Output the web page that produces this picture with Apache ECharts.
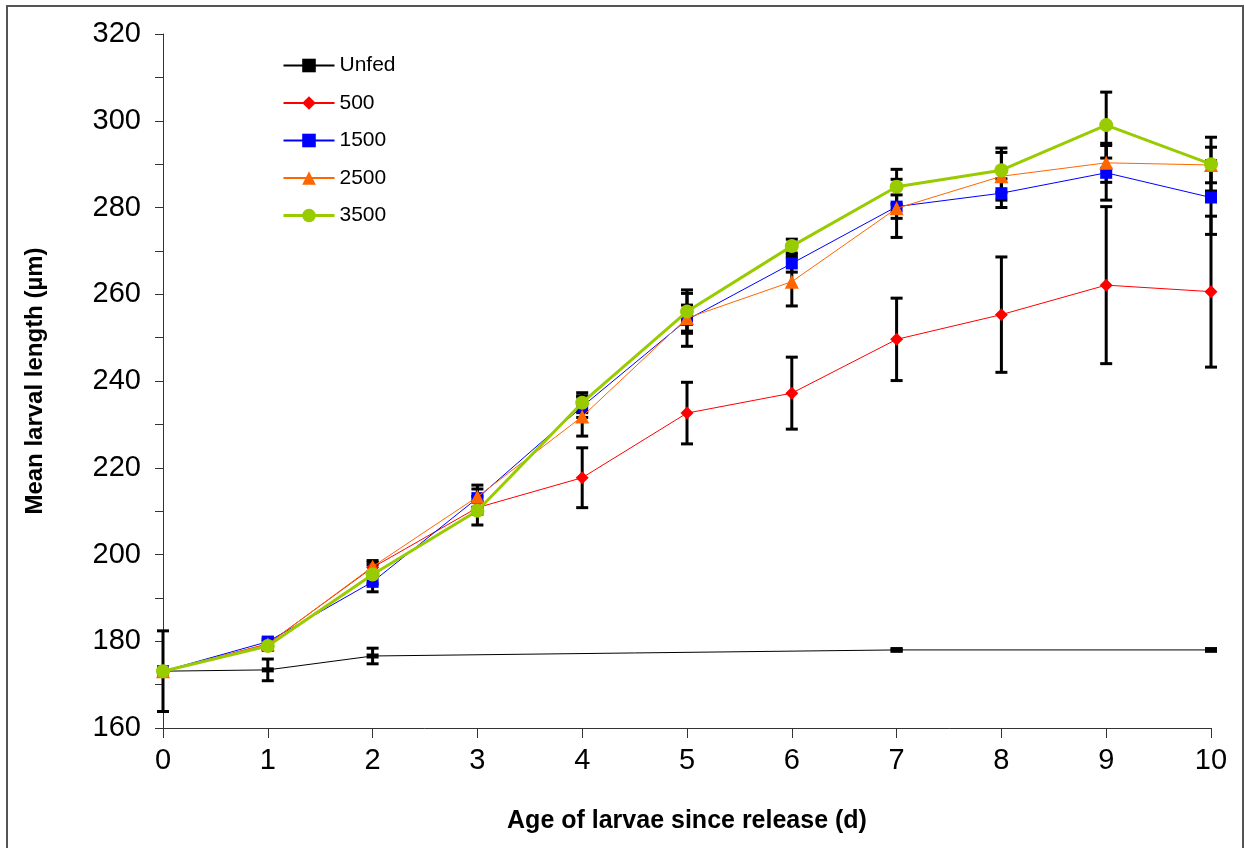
<!DOCTYPE html>
<html>
<head>
<meta charset="utf-8">
<script src="https://cdn.jsdelivr.net/npm/echarts@6/dist/echarts.min.js"></script>
<style>
html,body{margin:0;padding:0;background:#fff;}
#chart{width:1245px;height:848px;}
</style>
</head>
<body>
<div id="chart"></div>
<script>
// ---- data ----
const days = [0,1,2,3,4,5,6,7,8,9,10];
const unfedDays = [0,1,2,7,10];
const unfedMean = [173.1,173.4,176.6,178.0,178.0];
const unfedErr  = [9.3,2.5,1.8,0.3,0.3];
const s500Mean  = [173.1,179.4,197.0,210.8,217.7,232.6,237.2,249.6,255.3,262.1,260.6];
const s500Err   = [0,1.0,1.2,1.5,6.9,7.1,8.3,9.5,13.3,18.1,17.4];
const s1500Mean = [173.1,179.9,193.7,213.0,234.1,254.1,267.1,280.2,283.3,288.0,282.3];
const s1500Err  = [0,1.0,2.3,2.1,2.5,6.1,2.0,2.7,3.3,6.3,8.5];
const s2500Mean = [173.1,179.3,197.2,213.3,231.8,254.5,262.9,279.8,287.2,290.3,289.8];
const s2500Err  = [0,1.0,1.4,2.7,4.5,3.0,5.6,6.7,5.5,4.5,4.1];
const s3500Mean = [173.1,178.9,195.4,210.1,235.0,256.0,271.1,284.8,288.6,299.0,290.0];
const s3500Err  = [0,1.0,2.2,3.3,2.3,5.0,1.6,4.0,5.1,7.6,6.2];
const seriesNames = ['Unfed','500','1500','2500','3500'];
const yTicks = [160,180,200,220,240,260,280,300,320];

// ---- build ----
function pairs(xs, ys){ return xs.map((x,i)=>[x, ys[i]]); }
function errs(xs, ys, es){ return xs.map((x,i)=>[x, ys[i]-es[i], ys[i]+es[i]]).filter((d,i)=>es[i]>0); }
const errData = [].concat(
  errs(unfedDays, unfedMean, unfedErr),
  errs(days, s500Mean, s500Err),
  errs(days, s1500Mean, s1500Err),
  errs(days, s2500Mean, s2500Err),
  errs(days, s3500Mean, s3500Err)
);

const chart = echarts.init(document.getElementById('chart'), null, {renderer:'canvas'});
const font = 'Liberation Sans, Arial, sans-serif';
const option = {
  animation:false,
  backgroundColor:'#fff',
  textStyle:{fontFamily:font},
  graphic:[{type:'rect', shape:{x:7,y:6,width:1236,height:860}, style:{fill:'none', stroke:'#555', lineWidth:2}, silent:true}],
  grid:{left:163, right:34, top:34, bottom:120, containLabel:false},
  legend:{
    orient:'vertical', left:277, top:50, itemWidth:51, itemHeight:17, itemGap:16.5,
    textStyle:{fontSize:21, color:'#000', fontFamily:font},
    data:[
      {name:'Unfed'},
      {name:'500'},
      {name:'1500'},
      {name:'2500'},
      {name:'3500', lineStyle:{width:3}}
    ]
  },
  xAxis:{
    type:'value', min:0, max:10, interval:1,
    axisLine:{lineStyle:{color:'#333', width:1}},
    axisTick:{show:true, length:10, inside:false, lineStyle:{color:'#333'}},
    axisLabel:{fontSize:29, color:'#000', margin:18, fontFamily:font},
    splitLine:{show:false},
    name:'Age of larvae since release (d)', nameLocation:'middle', nameGap:81,
    nameTextStyle:{fontSize:25, fontWeight:'bold', color:'#000', fontFamily:font}
  },
  yAxis:{
    type:'value', min:160, max:320, interval:10,
    axisLine:{show:true, lineStyle:{color:'#333', width:1}},
    axisTick:{show:true, length:8, inside:false, lineStyle:{color:'#333'}},
    axisLabel:{fontSize:29, color:'#000', margin:22, fontFamily:font,
      formatter:v=> yTicks.indexOf(v)>=0 ? String(v) : ''},
    splitLine:{show:false},
    name:'Mean larval length (µm)', nameLocation:'middle', nameGap:116, nameRotate:90,
    nameTextStyle:{fontSize:24, fontWeight:'bold', color:'#000', fontFamily:font}
  },
  series:[
    {
      type:'custom', name:'err', z:1, silent:true,
      renderItem:function(params, api){
        const x = api.value(0);
        const lo = api.coord([x, api.value(1)]);
        const hi = api.coord([x, api.value(2)]);
        const w = 6;
        const st = {stroke:'#000', lineWidth:3};
        return {type:'group', children:[
          {type:'line', shape:{x1:lo[0],y1:lo[1],x2:hi[0],y2:hi[1]}, style:st},
          {type:'line', shape:{x1:lo[0]-w,y1:lo[1],x2:lo[0]+w,y2:lo[1]}, style:st},
          {type:'line', shape:{x1:hi[0]-w,y1:hi[1],x2:hi[0]+w,y2:hi[1]}, style:st}
        ]};
      },
      encode:{x:0, y:[1,2]},
      data:errData
    },
    {name:'Unfed', type:'line', z:2, data:pairs(unfedDays, unfedMean),
      symbol:'rect', symbolSize:[12,5], showAllSymbol:true,
      lineStyle:{color:'#000', width:1}, itemStyle:{color:'#000'}},
    {name:'500', type:'line', z:3, data:pairs(days, s500Mean),
      symbol:'diamond', symbolSize:13,
      lineStyle:{color:'#FF0000', width:1}, itemStyle:{color:'#FF0000'}},
    {name:'1500', type:'line', z:4, data:pairs(days, s1500Mean),
      symbol:'rect', symbolSize:12,
      lineStyle:{color:'#0000FF', width:1}, itemStyle:{color:'#0000FF'}},
    {name:'2500', type:'line', z:5, data:pairs(days, s2500Mean),
      symbol:'triangle', symbolSize:14,
      lineStyle:{color:'#FF6600', width:1}, itemStyle:{color:'#FF6600'}},
    {name:'3500', type:'line', z:6, data:pairs(days, s3500Mean),
      symbol:'circle', symbolSize:14,
      lineStyle:{color:'#99CC00', width:3}, itemStyle:{color:'#99CC00'}}
  ]
};
chart.setOption(option);
</script>
</body>
</html>
